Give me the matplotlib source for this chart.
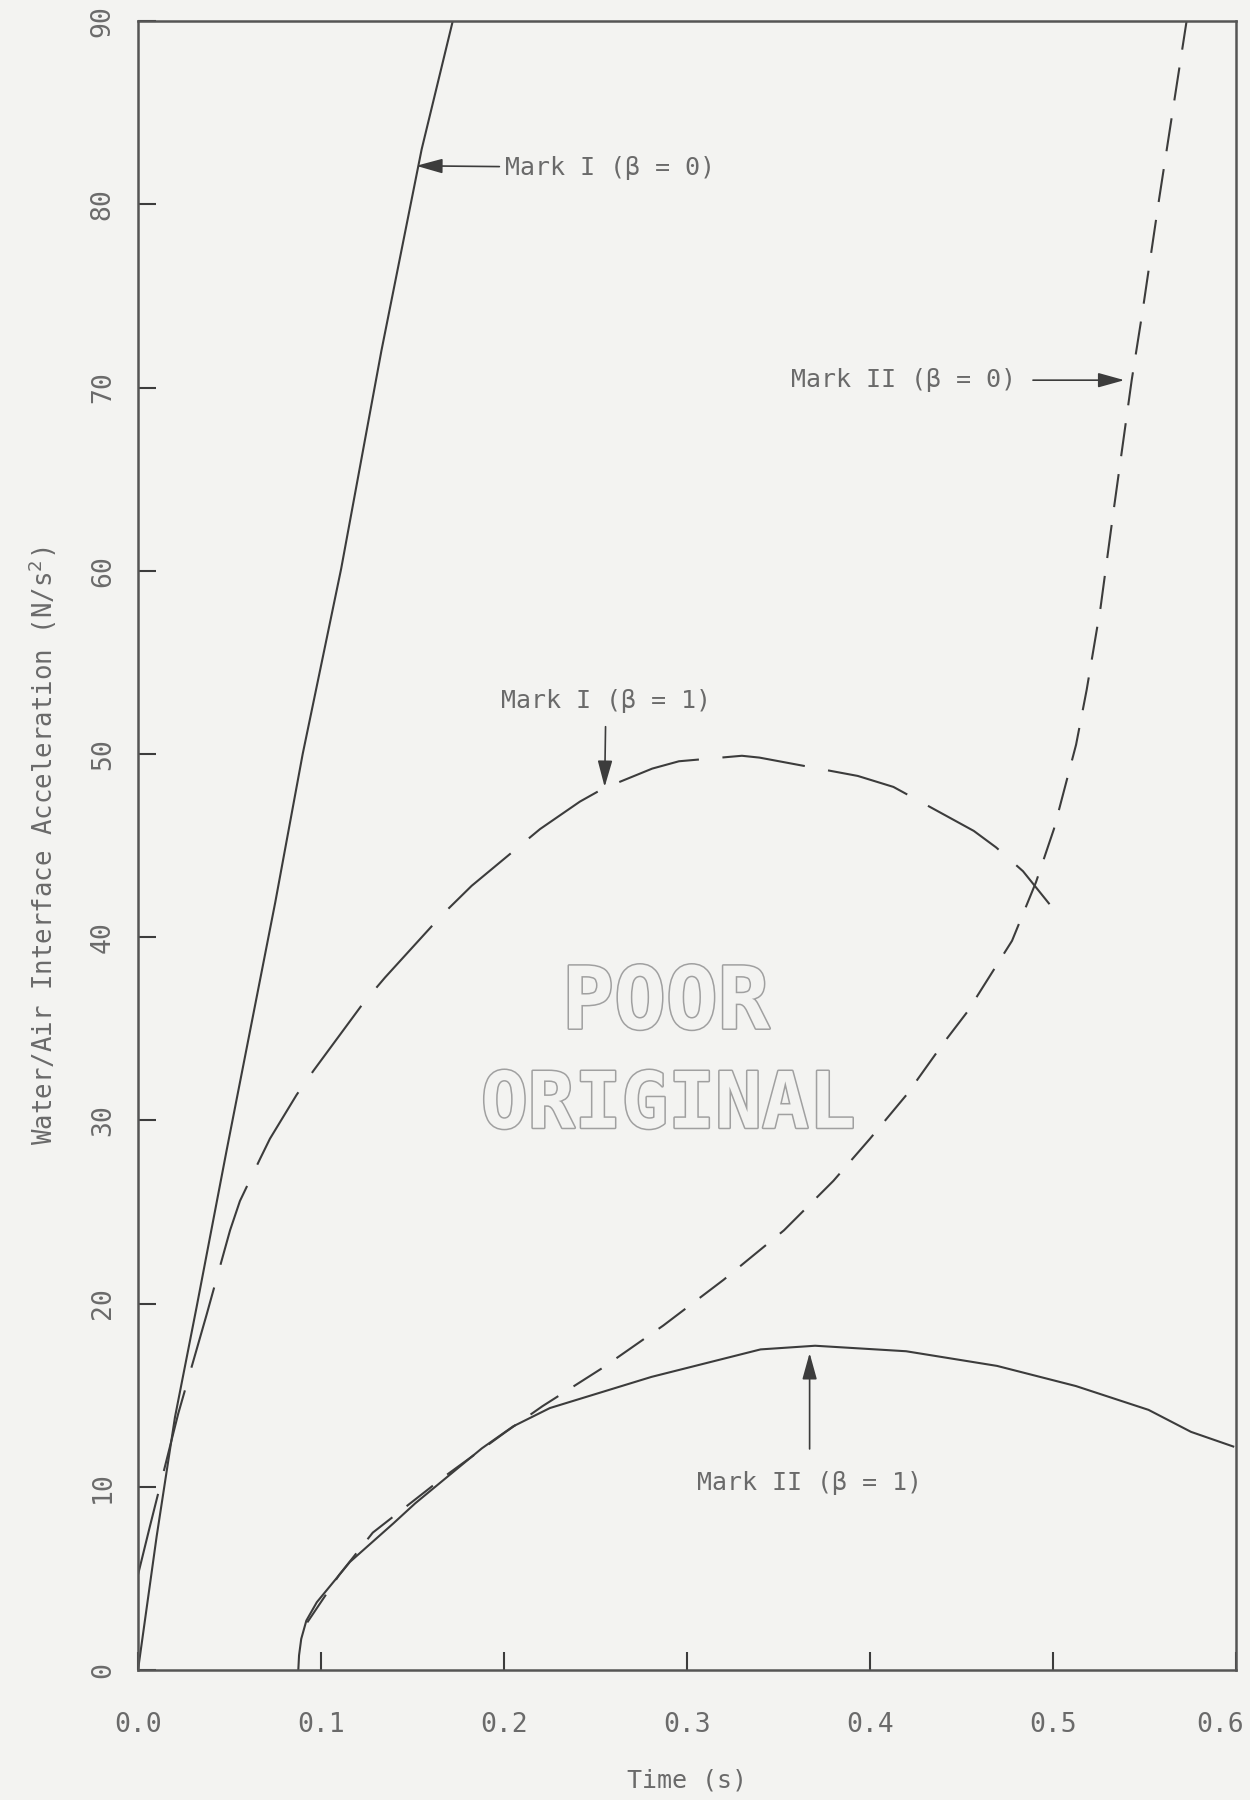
import numpy as np
import matplotlib
matplotlib.use('Agg')
import matplotlib.pyplot as plt
import matplotlib.patheffects as pe
import matplotlib.transforms as mtransforms

# values (time in s, acceleration in N/s^2)
mark1_b0_t = [0.0, 0.0102, 0.0202, 0.032, 0.0485, 0.075, 0.09, 0.111, 0.133, 0.155, 0.172]
mark1_b0_a = [0.0, 7.3, 13.8, 19.8, 28.4, 41.9, 50.0, 60.1, 72.0, 83.0, 90.0]

mark1_b1_t = [0.0, 0.0064, 0.022, 0.0375, 0.0503, 0.0557, 0.0667, 0.0721, 0.0867, 0.0958,
              0.1231, 0.135, 0.166, 0.1823, 0.2197, 0.2415, 0.254, 0.281, 0.2956, 0.33,
              0.3396, 0.3933, 0.4128, 0.4567, 0.4689, 0.4836, 0.4981]
mark1_b1_a = [5.2, 7.8, 14.0, 19.4, 24.0, 25.6, 27.9, 29.0, 31.4, 32.7,
              36.4, 37.8, 41.2, 42.8, 45.9, 47.4, 48.1, 49.2, 49.6, 49.9,
              49.8, 48.8, 48.2, 45.8, 44.9, 43.6, 41.8]

mark2_b0_t = [0.0925, 0.110, 0.1283, 0.168, 0.201, 0.221, 0.254, 0.287, 0.320, 0.353,
              0.380, 0.400, 0.420, 0.440, 0.453, 0.4776, 0.4907, 0.5005, 0.5126, 0.5184,
              0.526, 0.533, 0.543, 0.549, 0.558, 0.573]
mark2_b0_a = [2.6, 5.2, 7.5, 10.6, 13.0, 14.4, 16.5, 18.8, 21.3, 24.0,
              26.7, 29.0, 31.4, 34.2, 35.9, 39.8, 43.0, 45.9, 50.5, 53.5,
              58.0, 63.2, 70.4, 74.2, 80.3, 90.0]

mark2_b1_t = [0.0876, 0.0880, 0.0892, 0.092, 0.0977, 0.1158, 0.1395, 0.1515, 0.1879, 0.205,
              0.2251, 0.2806, 0.3402, 0.37, 0.4197, 0.4694, 0.5125, 0.5522, 0.5754, 0.5985]
mark2_b1_a = [0.0, 0.8, 1.7, 2.7, 3.7, 5.9, 8.0, 9.1, 12.1, 13.3,
              14.3, 16.0, 17.5, 17.7, 17.4, 16.6, 15.5, 14.2, 13.0, 12.2]

x_ticks = [0.0, 0.1, 0.2, 0.3, 0.4, 0.5, 0.6]
y_ticks = [0, 10, 20, 30, 40, 50, 60, 70, 80, 90]

paper = '#f3f3f1'
ink = '#3c3c3c'
txt = '#6a6a6a'

plt.rcParams['font.family'] = ['DejaVu Sans Mono']
plt.rcParams['lines.scale_dashes'] = False
plt.rcParams['mathtext.fontset'] = 'dejavusans'

fig = plt.figure(figsize=(12.5, 18), dpi=100, facecolor=paper)
ax = fig.add_axes([0.1104, 0.0722, 0.8784, 0.9161], facecolor=paper)

ax.plot(mark1_b0_t, mark1_b0_a, color=ink, lw=1.5, solid_joinstyle='round')
ax.plot(mark1_b1_t, mark1_b1_a, color=ink, lw=1.5, dashes=(60, 17), dash_capstyle='butt')
ax.plot(mark2_b0_t, mark2_b0_a, color=ink, lw=1.5, dashes=(24, 13), dash_capstyle='butt')
ax.plot(mark2_b1_t, mark2_b1_a, color=ink, lw=1.5, solid_joinstyle='round')

ax.set_xlim(0, 0.6)
ax.set_ylim(0, 90)
ax.set_xticks(x_ticks)
ax.set_xticklabels([f'{v:.1f}' for v in x_ticks])
ax.set_yticks(y_ticks)
ax.set_yticklabels([str(v) for v in y_ticks])
ax.tick_params(direction='in', length=13, width=1.5, color=ink, labelcolor=txt,
               labelsize=19)
ax.tick_params(axis='x', pad=30)
ax.tick_params(axis='y', pad=16, labelrotation=90)
for lab in ax.get_yticklabels():
    lab.set_va('center')
# last x label sits against the page edge, as in the scan
last = ax.get_xticklabels()[-1]
last.set_ha('right')
last.set_transform(last.get_transform() + mtransforms.ScaledTranslation(8 / 100, 0, fig.dpi_scale_trans))

for s in ax.spines.values():
    s.set_color('#555555')
    s.set_linewidth(1.8)

ax.set_xlabel('Time (s)', fontsize=18, color=txt, labelpad=22)
ax.set_ylabel('Water/Air Interface Acceleration (N/s$^2$)', fontsize=18.5, color=txt, labelpad=22)

arrow = dict(arrowstyle='-|>,head_length=0.9,head_width=0.25', color=ink, lw=1.2,
             shrinkB=0)
ax.annotate('Mark I (β = 0)', xy=(0.152, 82.1), xytext=(0.2005, 82.0), fontsize=18,
            color=txt, ha='left', va='center', arrowprops=dict(arrow, shrinkA=2))
ax.annotate('Mark I (β = 1)', xy=(0.255, 48.2), xytext=(0.2557, 52.9), fontsize=18,
            color=txt, ha='center', va='center', arrowprops=dict(arrow, shrinkA=8))
ax.annotate('Mark II (β = 0)', xy=(0.539, 70.4), xytext=(0.357, 70.4), fontsize=18,
            color=txt, ha='left', va='center', arrowprops=dict(arrow, shrinkA=10))
ax.annotate('Mark II (β = 1)', xy=(0.367, 17.3), xytext=(0.367, 10.2), fontsize=18,
            color=txt, ha='center', va='center', arrowprops=dict(arrow, shrinkA=14))

# "POOR ORIGINAL" stamp
stamp = [pe.withStroke(linewidth=2.2, foreground='#a0a0a0')]
ax.text(0.2885, 36.3, 'POOR', family='DejaVu Sans Mono', weight='bold', fontsize=62,
        color=paper, ha='center', va='center', path_effects=stamp)
ax.text(0.2896, 30.8, 'ORIGINAL', family='DejaVu Sans Mono', weight='bold', fontsize=56,
        color=paper, ha='center', va='center', path_effects=stamp)

fig.savefig('out.png', dpi=100, facecolor=paper)
